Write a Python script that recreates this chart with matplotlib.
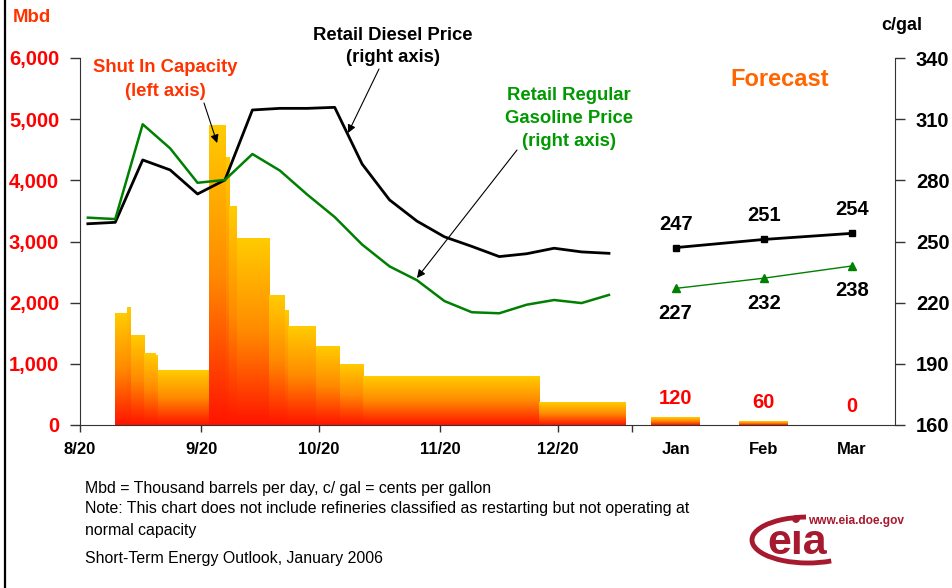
import numpy as np
import pandas as pd
import matplotlib
matplotlib.use('Agg')
import matplotlib.pyplot as plt
from matplotlib.colors import LinearSegmentedColormap
from matplotlib.patches import Arc, Circle
from matplotlib.ticker import FuncFormatter

plt.rcParams['font.family'] = ['Liberation Sans', 'DejaVu Sans']
plt.rcParams['font.weight'] = 'bold'

# x axis runs in days since 8/20/2005
date_ticks = [0, 31, 61, 92, 122]
date_labels = ['8/20', '9/20', '10/20', '11/20', '12/20']
split_tick = 141

# weekly retail prices, c/gal (Mondays from Aug 22)
week_dates = pd.date_range('2005-08-22', periods=20, freq='7D')
diesel = [258.7, 259.4, 290.0, 285.1, 273.3, 280.2, 314.5, 315.3, 315.3, 315.8,
          288.0, 270.4, 260.0, 252.3, 247.6, 242.6, 244.0, 246.7, 244.9, 244.2]
gasoline = [261.7, 261.0, 307.5, 295.7, 278.8, 280.2, 292.9, 284.8, 273.0, 262.0,
            248.5, 237.8, 231.0, 220.8, 215.3, 214.8, 219.0, 221.3, 219.8, 223.8]

# shut in refinery capacity, Mbd (step blocks: start day -> next start)
shut_in_start = [8.9, 12.0, 12.9, 16.3, 19.3, 19.8, 32.9, 37.2, 38.0, 40.0,
                 48.2, 52.2, 53.1, 60.2, 66.3, 72.2, 117.2]
shut_in_end = 139.3
shut_in_mbd = [1831, 1929, 1471, 1161, 1133, 883, 4893, 4381, 3580, 3041,
               2125, 1864, 1618, 1291, 997, 801, 371]

# forecast months
fc_months = ['Jan', 'Feb', 'Mar']
fc_pos = [152, 174.5, 197]
fc_shut_in = [120, 60, 0]
fc_diesel = [247, 251, 254]
fc_gasoline = [227, 232, 238]

W, H = 953, 588


def fx(px):
    return px / W


def fy(py):
    return 1 - py / H


fig = plt.figure(figsize=(W / 100, H / 100), dpi=100)
ax = fig.add_axes([fx(80), fy(425), fx(895) - fx(80), fy(58) - fy(425)])
ax.set_facecolor('none')

grad_cmap = LinearSegmentedColormap.from_list('shut', ['#FF1400', '#FF8A00', '#FFCC00'])
grad = np.linspace(0, 1, 256).reshape(-1, 1)

ends = shut_in_start[1:] + [shut_in_end]
for x0, x1, h in zip(shut_in_start, ends, shut_in_mbd):
    ax.imshow(grad, extent=[x0, x1, 0, h], aspect='auto', origin='lower',
              cmap=grad_cmap, zorder=2)
for x, h in zip(fc_pos, fc_shut_in):
    if h > 0:
        ax.imshow(grad, extent=[x - 6.2, x + 6.2, 0, h], aspect='auto',
                  origin='lower', cmap=grad_cmap, zorder=2)
    ax.annotate(str(h), (x, h), xytext=(0, 13.5), textcoords='offset points',
                ha='center', va='center', color='#FF0000', fontsize=14.5)

ax.set_xlim(0, 208)
ax.set_ylim(0, 6000)
ax.set_yticks(range(0, 6001, 1000))
ax.yaxis.set_major_formatter(FuncFormatter(lambda v, p: f'{int(v):,}'))
ax.tick_params(axis='y', direction='out', length=7, width=1, pad=8,
               labelcolor='#FF0000', labelsize=14.5, color='#333333')
ax.set_xticks(date_ticks + [split_tick])
ax.set_xticklabels(date_labels + [''])
ax.set_xticks(fc_pos, minor=True)
ax.set_xticklabels(fc_months, minor=True)
ax.tick_params(axis='x', which='major', direction='out', length=5, width=1,
               pad=7, labelsize=12, color='#333333')
ax.tick_params(axis='x', which='minor', length=0, pad=12, labelsize=12)
for s in ['top', 'right']:
    ax.spines[s].set_visible(False)
for s in ['left', 'bottom']:
    ax.spines[s].set_color('#333333')

ax2 = ax.twinx()
ax2.set_facecolor('none')
days = (week_dates - pd.Timestamp('2005-08-20')).days
ax2.plot(days, diesel, color='black', lw=2, zorder=3)
ax2.plot(days, gasoline, color='#008000', lw=1.8, zorder=3)
ax2.plot(fc_pos, fc_diesel, color='black', lw=2, marker='s', ms=5, zorder=3)
ax2.plot(fc_pos, fc_gasoline, color='#008000', lw=1, marker='^', ms=6, zorder=3)
for x, v in zip(fc_pos, fc_diesel):
    ax2.annotate(str(v), (x, v), xytext=(0, 17), textcoords='offset points',
                 ha='center', va='center', fontsize=14.5)
for x, v in zip(fc_pos, fc_gasoline):
    ax2.annotate(str(v), (x, v), xytext=(0, -18), textcoords='offset points',
                 ha='center', va='center', fontsize=14.5)
ax2.set_ylim(160, 340)
ax2.set_yticks(range(160, 341, 30))
ax2.tick_params(axis='y', direction='out', length=7, width=1, pad=8,
                labelsize=14.5, color='#333333')
for s in ['top', 'left', 'bottom']:
    ax2.spines[s].set_visible(False)
ax2.spines['right'].set_color('#333333')

# arrows from the callouts
arrow = dict(arrowstyle='-|>', color='black', lw=0.8, mutation_scale=12,
             shrinkA=0, shrinkB=0)
ax2.annotate('', xy=(35.0, 4610), xycoords=ax.transData,
             xytext=(204, H - 103), textcoords='figure pixels', arrowprops=arrow)
ax2.annotate('', xy=(68.4, 303.2), xytext=(379, H - 69),
             textcoords='figure pixels', arrowprops=arrow)
ax2.annotate('', xy=(86.0, 232.1), xytext=(517, H - 150),
             textcoords='figure pixels', arrowprops=arrow)

# callout texts
orange_red = '#FF3300'
green_txt = '#009900'
fig.text(fx(165), fy(68), 'Shut In Capacity', ha='center', va='center',
         color=orange_red, fontsize=13.3)
fig.text(fx(165), fy(92), '(left axis)', ha='center', va='center',
         color=orange_red, fontsize=13.3)
fig.text(fx(393), fy(35), 'Retail Diesel Price', ha='center', va='center',
         fontsize=13.3)
fig.text(fx(393), fy(58), '(right axis)', ha='center', va='center',
         fontsize=13.3)
for txt, py in [('Retail Regular', 96), ('Gasoline Price', 119), ('(right axis)', 141)]:
    fig.text(fx(569), fy(py), txt, ha='center', va='center', color=green_txt,
             fontsize=13.3)
fig.text(fx(780), fy(79), 'Forecast', ha='center', va='center',
         color='#FF6600', fontsize=17)
fig.text(fx(13), fy(18), 'Mbd', ha='left', va='center', color=orange_red,
         fontsize=13.4)
fig.text(fx(902), fy(25), 'c/gal', ha='center', va='center', fontsize=13)

# footer notes
notes = [('Mbd = Thousand barrels per day, c/ gal = cents per gallon', 489),
         ('Note: This chart does not include refineries classified as restarting but not operating at', 509),
         ('normal capacity', 530),
         ('Short-Term Energy Outlook, January 2006', 559)]
for txt, py in notes:
    fig.text(fx(85), fy(py), txt, ha='left', va='center', fontsize=11.4,
             fontweight='normal')

# slide border and eia logo
ov = fig.add_axes([0, 0, 1, 1])
ov.set_xlim(0, W)
ov.set_ylim(0, H)
ov.axis('off')
ov.plot([5, 5], [0, H], color='black', lw=1.6)
logo_red = '#A6192E'
ov.add_patch(Arc((808, H - 540), 112, 46, theta1=95, theta2=318,
                 color=logo_red, lw=3.5))
ov.add_patch(Circle((796, H - 519), 3.2, color=logo_red))
ov.text(797, H - 554, 'e\u0131a', ha='center', va='baseline', color=logo_red,
        fontsize=31)
ov.text(808, H - 524, 'www.eia.doe.gov', ha='left', va='baseline',
        color=logo_red, fontsize=8.6)

fig.savefig('out.png', dpi=100)
